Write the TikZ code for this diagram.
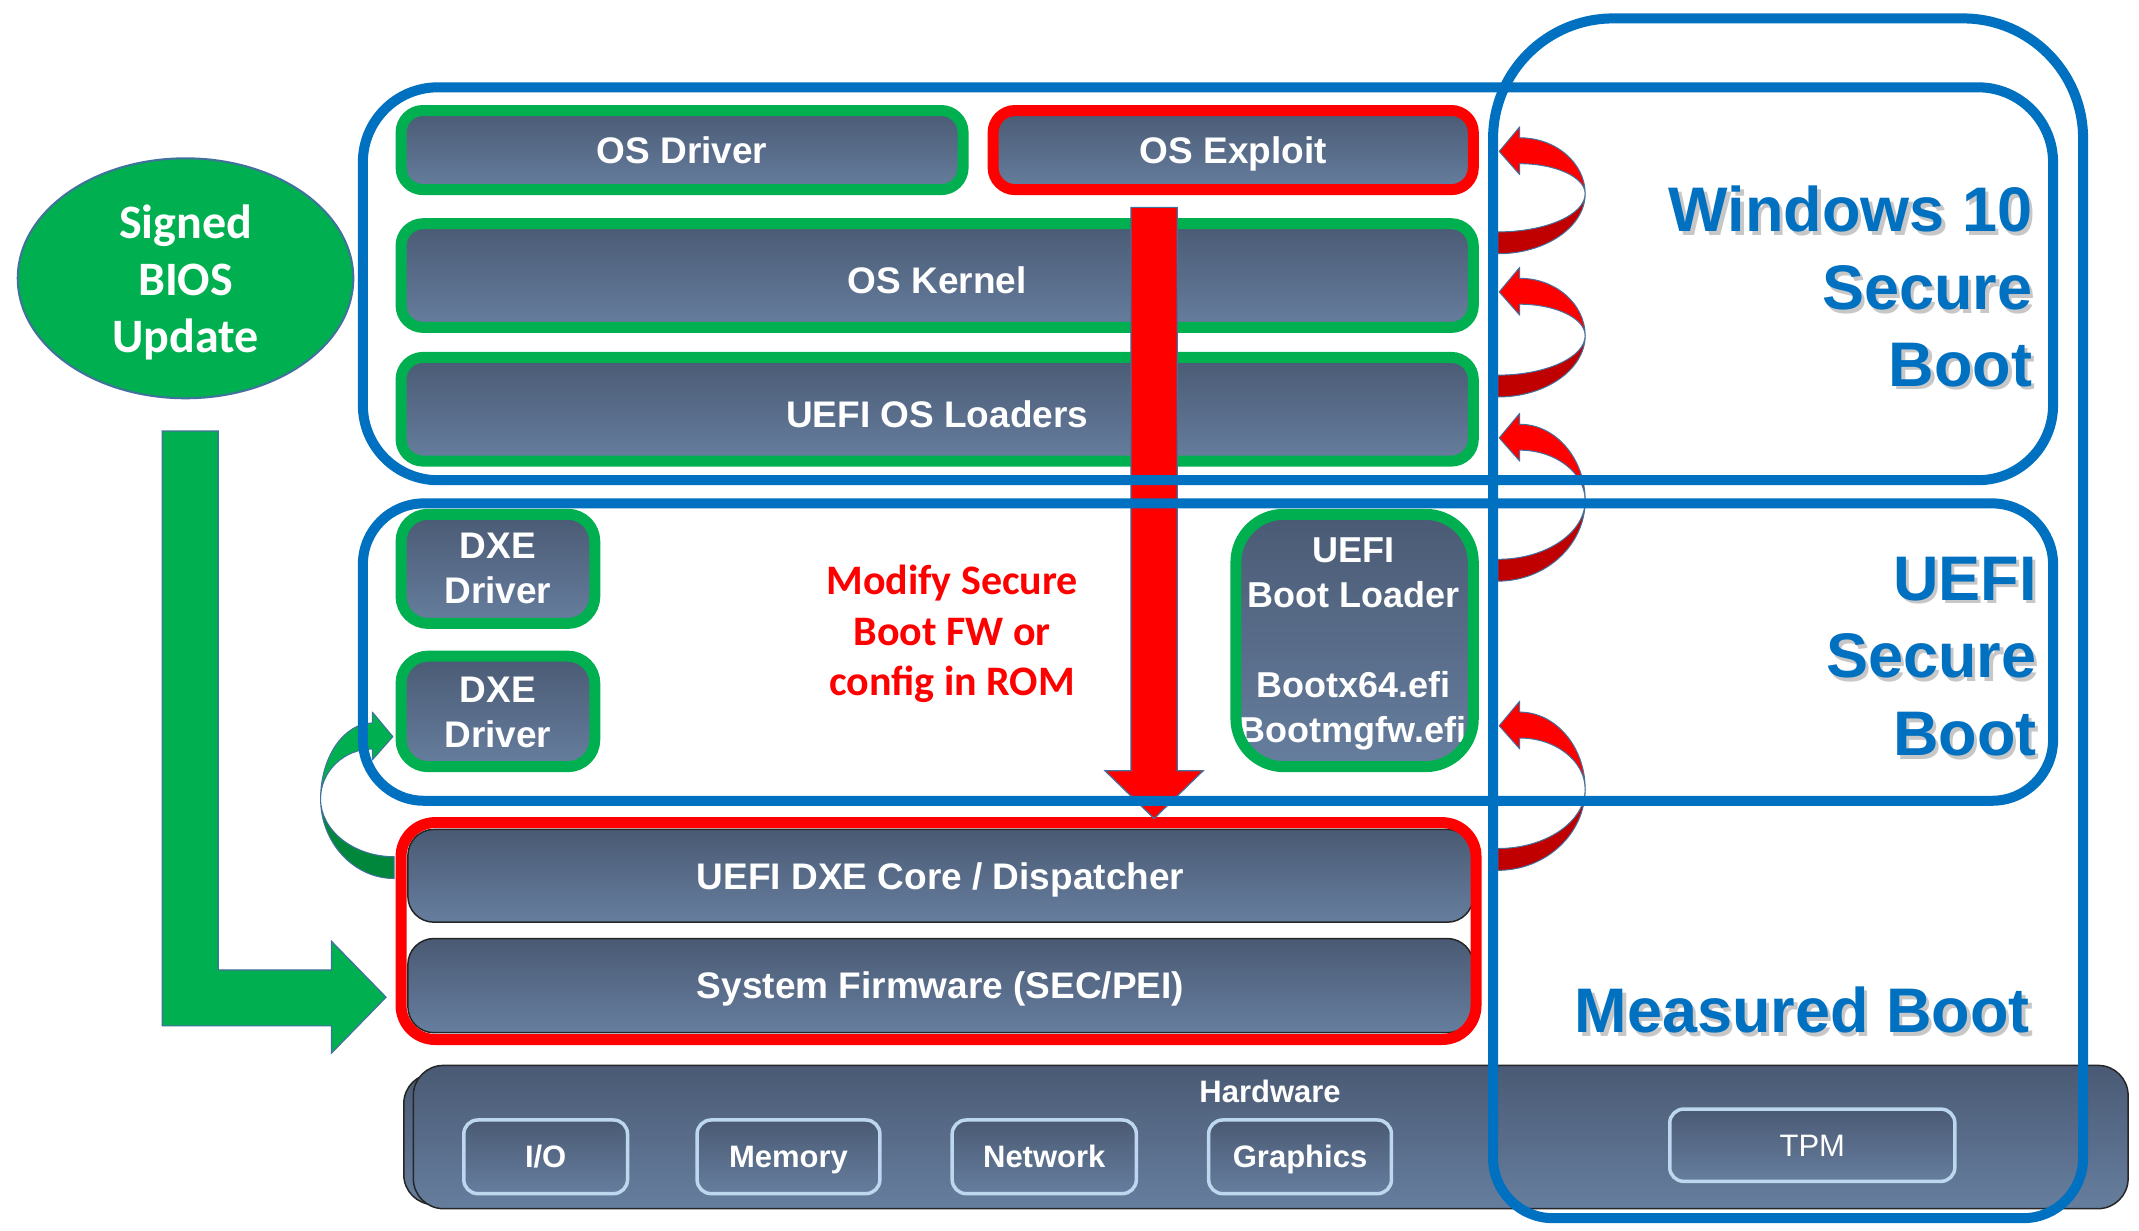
\documentclass[tikz,border=0pt]{standalone}
\usepackage{fontspec}
\usetikzlibrary{fit,shapes.geometric}
\newfontfamily\libsans{Liberation Sans}
\newfontfamily\carl{Carlito}
\definecolor{slatetop}{HTML}{4A5A74}
\definecolor{slatebot}{HTML}{667E9E}
\definecolor{grnc}{HTML}{00B050}
\definecolor{darkgrn}{HTML}{00873C}
\definecolor{redc}{HTML}{FF0000}
\definecolor{darkred}{HTML}{C00000}
\definecolor{bluec}{HTML}{0070C0}
\definecolor{outl}{HTML}{41719C}
\definecolor{hwline}{HTML}{BDD7EE}
\tikzset{
 slate/.style={top color=slatetop, bottom color=slatebot},
 gbox/.style={slate, draw=grnc, line width=11pt, inner sep=0pt, rounded corners=22pt},
 rbox/.style={gbox, draw=redc},
 ibox/.style={slate, draw=black!85, line width=1.5pt, inner sep=0pt, rounded corners=26pt},
 hwbox/.style={slate, draw=hwline, line width=3.5pt, inner sep=0pt, rounded corners=14pt},
 bluebox/.style={draw=bluec, line width=10pt, inner sep=0pt},
 lbl/.style={text=white, inner sep=0pt, font=\libsans\bfseries\fontsize{37}{45}\selectfont, text height=26.6pt, text depth=0pt, align=center},
 hwlbl/.style={lbl, font=\libsans\bfseries\fontsize{31}{37}\selectfont, text height=22.3pt},
 tpmlbl/.style={lbl, font=\libsans\fontsize{31}{37}\selectfont, text height=22.3pt},
 bluetxt/.style={text=bluec, inner sep=0pt, anchor=base east, font=\libsans\bfseries\fontsize{63}{77}\selectfont},
 shtxt/.style={bluetxt, text=black, opacity=0.22},
 blockarrow/.style={draw=outl, line width=1.2pt, line join=miter},
}
% curled block arrow: x0, head y, tail y, direction, bulge, front colour, back colour
\newcommand{\curl}[7]{%
 \pgfmathsetmacro\curlm{(#2+#3)/2-2}%
 \draw[fill=#6, draw=outl, line width=1pt, line join=round]
  ({#1+(#4)*16},{#2-17}) -- ({#1+(#4)*1},{#2+1}) -- ({#1+(#4)*16},{#2+18}) -- ({#1+(#4)*16},{#2+10})
  .. controls ({#1+(#4)*(16+0.55*(#5-16))},{#2+10}) and ({#1+(#4)*(#5)},{\curlm-0.55*(\curlm-#2-10)}) .. ({#1+(#4)*(#5)},{\curlm})
  .. controls ({#1+(#4)*(#5)},{\curlm-0.55*(\curlm-#2+9)}) and ({#1+(#4)*(16+0.55*(#5-16))},{#2-9}) .. ({#1+(#4)*16},{#2-9}) -- cycle;
 \draw[fill=#7, draw=outl, line width=1pt, line join=round]
  ({#1+(#4)*(#5)},{\curlm}) .. controls ({#1+(#4)*(#5)},{\curlm+0.55*(#3+8-\curlm)}) and ({#1+(#4)*0.55*(#5)},{#3+8}) .. ({#1},{#3+8})
  -- ({#1},{#3-8}) .. controls ({#1+(#4)*0.55*(#5)},{#3-8}) and ({#1+(#4)*(#5)},{\curlm+0.55*(#3-8-\curlm)}) .. ({#1+(#4)*(#5)},{\curlm}) -- cycle;
}
\begin{document}
\begin{tikzpicture}[x=1.3642pt, y=-1.3642pt]
\useasboundingbox (0,0) rectangle (1568,902);
\fill[white] (0,0) rectangle (1568,902);

% Signed BIOS update
\draw[blockarrow, fill=grnc] (119,316) -- (160,316) -- (160,711) -- (243,711) -- (243,690) -- (283,731) -- (243,772) -- (243,752) -- (119,752) -- cycle;
\node[ellipse, fill=grnc, draw=outl, line width=2pt, minimum width=335.6pt, minimum height=240pt, inner sep=0pt] (bios) at (136,204) {};
\node[text=white, inner sep=0pt, align=center, font=\carl\bfseries\fontsize{48}{57}\selectfont, text height=31pt, text depth=0pt] (biost) at (136,247) {Signed\\BIOS\\Update};

% Hardware
\node[ibox, rounded corners=30pt, fit={(296,787) (1553,883)}] (hwback) {};
\node[ibox, rounded corners=30pt, fit={(303,781) (1560,886)}] (hw) {};
\node[hwlbl] (hwt) at (931,800) {Hardware};
\node[hwbox, fit={(340,821) (460,875)}] (io) {};
\node[hwbox, fit={(511,821) (645,875)}] (mem) {};
\node[hwbox, fit={(698,821) (833,875)}] (net) {};
\node[hwbox, fit={(886,821) (1020,875)}] (gfx) {};
\node[hwbox, fit={(1224,813) (1433,866)}] (tpm) {};
\node[hwlbl] (iot) at (io) {I/O};
\node[hwlbl] (memt) at (mem) {Memory};
\node[hwlbl] (nett) at (net) {Network};
\node[hwlbl] (gfxt) at (gfx) {Graphics};
\node[tpmlbl] (tpmt) at (tpm) {TPM};

% OS layer
\node[gbox, fit={(294,81) (706,139)}] (osdrv) {};
\node[rbox, fit={(728,81) (1080,139)}] (osexp) {};
\node[gbox, fit={(294,164) (1080,240)}] (kernel) {};
\node[gbox, fit={(294,262) (1080,338)}] (loaders) {};
\node[lbl] (osdrvt) at (osdrv) {OS Driver};
\node[lbl] (osexpt) at (osexp) {OS Exploit};
\node[lbl] (kernelt) at ([yshift=-5pt]kernel.center) {OS Kernel};
\node[lbl] (loaderst) at ([yshift=-5pt]loaders.center) {UEFI OS Loaders};

% UEFI layer
\node[gbox, rounded corners=27pt, fit={(294,377) (436,457)}] (dxea) {};
\node[gbox, rounded corners=27pt, fit={(294,481) (436,562)}] (dxeb) {};
\node[lbl] (dxeat) at (365,433) {DXE\\Driver};
\node[lbl] (dxebt) at (365,538) {DXE\\Driver};
\node[gbox, rounded corners=48pt, draw=none, fit={(906,377) (1080,562)}] (bootl) {};
\node[lbl, font=\libsans\bfseries\fontsize{36}{45}\selectfont, text height=25.9pt] (bootlt) at (992,535) {UEFI\\Boot Loader\\[45pt]Bootx64.efi\\Bootmgfw.efi};
\draw[draw=grnc, line width=11pt, rounded corners=48pt] (906,377) rectangle (1080,562);

% firmware
\node[ibox, fit={(299,608) (1080,676)}] (dxecore) {};
\node[ibox, fit={(299,688) (1080,757)}] (sysfw) {};
\node[draw=redc, line width=11pt, rounded corners=34pt, inner sep=0pt, fit={(294,603) (1082,762)}] (fw) {};
\node[lbl] (dxecoret) at (dxecore) {UEFI DXE Core / Dispatcher};
\node[lbl] (sysfwt) at (sysfw) {System Firmware (SEC/PEI)};

% attack arrow
\draw[blockarrow, fill=redc] (829,152) -- (863,152) -- (863,565) -- (882,565) -- (846,600) -- (810,565) -- (829,565) -- cycle;

% curled arrows
\curl{1098}{110}{178}{1}{64}{redc}{darkred}
\curl{1098}{213}{283}{1}{64}{redc}{darkred}
\curl{1098}{320}{418}{1}{64}{redc}{darkred}
\curl{1098}{531}{630}{1}{64}{redc}{darkred}
\curl{289}{539}{636}{-1}{54}{grnc}{darkgrn}

% blue regions
\node[bluebox, rounded corners=75pt, fit={(266,64) (1505,352)}] (win) {};
\node[bluebox, rounded corners=61pt, fit={(266,369) (1505,587)}] (uefi) {};
\draw[bluec, line width=10pt] (1094.5,450) [rounded corners=120pt] |- (1310,13.5) -| (1527,450) [rounded corners=60pt] |- (1310,893) -| (1094.5,450) -- cycle;

% texts
\node[text=redc, inner sep=0pt, align=center, font=\carl\bfseries\fontsize{42}{50.5}\selectfont, text height=27pt, text depth=0pt] (modt) at (698,500) {Modify Secure\\Boot FW or\\config in ROM};

\node[shtxt] at (1492.5,172.5) {Windows 10};
\node[shtxt] at (1492.5,229.5) {Secure};
\node[shtxt] at (1492.5,285.5) {Boot};
\node[bluetxt] (w1) at (1490,170) {Windows 10};
\node[bluetxt] (w2) at (1490,227) {Secure};
\node[bluetxt] (w3) at (1490,283) {Boot};

\node[shtxt] at (1495.5,442.5) {UEFI};
\node[shtxt] at (1495.5,499.5) {Secure};
\node[shtxt] at (1495.5,556.5) {Boot};
\node[bluetxt] (u1) at (1493,440) {UEFI};
\node[bluetxt] (u2) at (1493,497) {Secure};
\node[bluetxt] (u3) at (1493,554) {Boot};

\node[shtxt] at (1490.5,759.5) {Measured Boot};
\node[bluetxt] (mb) at (1488,757) {Measured Boot};
\end{tikzpicture}
\end{document}
